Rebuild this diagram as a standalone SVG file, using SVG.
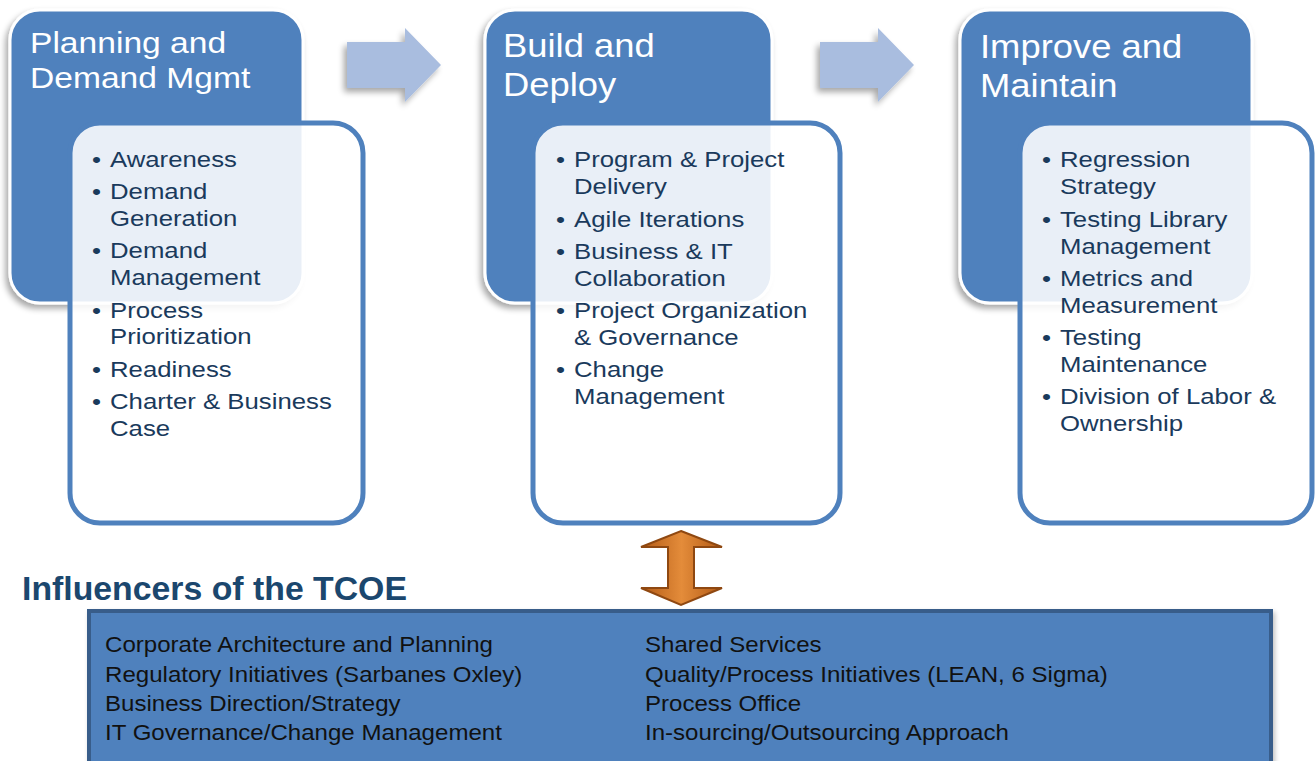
<svg xmlns="http://www.w3.org/2000/svg" width="1315" height="761" viewBox="0 0 1315 761">
  <defs>
    <filter id="shadow" x="-10%" y="-10%" width="125%" height="125%">
      <feGaussianBlur in="SourceAlpha" stdDeviation="3"/>
      <feOffset dx="-3" dy="4" result="b"/>
      <feComponentTransfer><feFuncA type="linear" slope="0.35"/></feComponentTransfer>
      <feMerge><feMergeNode/><feMergeNode in="SourceGraphic"/></feMerge>
    </filter>
    <filter id="softShadow" x="-10%" y="-10%" width="125%" height="125%">
      <feGaussianBlur in="SourceAlpha" stdDeviation="2.5"/>
      <feOffset dx="2" dy="3" result="b"/>
      <feComponentTransfer><feFuncA type="linear" slope="0.25"/></feComponentTransfer>
      <feMerge><feMergeNode/><feMergeNode in="SourceGraphic"/></feMerge>
    </filter>
    <linearGradient id="orange" x1="0" y1="0" x2="1" y2="0">
      <stop offset="0" stop-color="#b25a16"/>
      <stop offset="0.5" stop-color="#e48c3a"/>
      <stop offset="1" stop-color="#b25a16"/>
    </linearGradient>
  </defs>
  <style>
    .stage { fill: #4f81bd; stroke: #ffffff; stroke-width: 3; }
    .panel { fill: #ffffff; fill-opacity: 0.875; stroke: #4f81bd; stroke-width: 5; }
    .title { font-family: "Liberation Sans", Arial, sans-serif; fill: #ffffff; }
    .item { font-family: "Liberation Sans", Arial, sans-serif; font-size: 23px; fill: #1a3a5c; }
    .flow { fill: #a9bddf; }
    .heading { font-family: "Liberation Sans", Arial, sans-serif; font-weight: bold; font-size: 33.8px; fill: #1b476e; }
    .infl { font-family: "Liberation Sans", Arial, sans-serif; font-size: 21.5px; fill: #111111; }
  </style>

  <rect width="1315" height="761" fill="#ffffff"/>

  <!-- Stage 1 -->
  <g id="stage-planning">
    <rect class="stage" x="10" y="10" width="293" height="293" rx="30" filter="url(#shadow)"/>
    <g transform="translate(30,0) scale(1.12,1)">
      <text class="title" font-size="30" x="0" y="53">Planning and</text>
      <text class="title" font-size="30" x="0" y="88">Demand Mgmt</text>
    </g>
    <rect class="panel" x="70" y="123" width="293" height="400" rx="30"/>
    <g transform="translate(110,0) scale(1.12,1)">
      <text class="item" x="-16" y="167">•</text><text class="item" x="0" y="167">Awareness</text>
      <text class="item" x="-16" y="199">•</text><text class="item" x="0" y="199">Demand</text>
      <text class="item" x="0" y="226">Generation</text>
      <text class="item" x="-16" y="258">•</text><text class="item" x="0" y="258">Demand</text>
      <text class="item" x="0" y="285">Management</text>
      <text class="item" x="-16" y="318">•</text><text class="item" x="0" y="318">Process</text>
      <text class="item" x="0" y="344">Prioritization</text>
      <text class="item" x="-16" y="377">•</text><text class="item" x="0" y="377">Readiness</text>
      <text class="item" x="-16" y="409">•</text><text class="item" x="0" y="409">Charter &amp; Business</text>
      <text class="item" x="0" y="436">Case</text>
    </g>
  </g>

  <!-- Stage 2 -->
  <g id="stage-build">
    <rect class="stage" x="485" y="10" width="287" height="293" rx="30" filter="url(#shadow)"/>
    <g transform="translate(503,0) scale(1.12,1)">
      <text class="title" font-size="32.5" x="0" y="57">Build and</text>
      <text class="title" font-size="32.5" x="0" y="96">Deploy</text>
    </g>
    <rect class="panel" x="533" y="123" width="307" height="400" rx="30"/>
    <g transform="translate(574,0) scale(1.12,1)">
      <text class="item" x="-16" y="167">•</text><text class="item" x="0" y="167">Program &amp; Project</text>
      <text class="item" x="0" y="194">Delivery</text>
      <text class="item" x="-16" y="227">•</text><text class="item" x="0" y="227">Agile Iterations</text>
      <text class="item" x="-16" y="259">•</text><text class="item" x="0" y="259">Business &amp; IT</text>
      <text class="item" x="0" y="286">Collaboration</text>
      <text class="item" x="-16" y="318">•</text><text class="item" x="0" y="318">Project Organization</text>
      <text class="item" x="0" y="345">&amp; Governance</text>
      <text class="item" x="-16" y="377">•</text><text class="item" x="0" y="377">Change</text>
      <text class="item" x="0" y="404">Management</text>
    </g>
  </g>

  <!-- Stage 3 -->
  <g id="stage-improve">
    <rect class="stage" x="960" y="10" width="292" height="293" rx="30" filter="url(#shadow)"/>
    <g transform="translate(980,0) scale(1.12,1)">
      <text class="title" font-size="32.5" x="0" y="58">Improve and</text>
      <text class="title" font-size="32.5" x="0" y="97">Maintain</text>
    </g>
    <rect class="panel" x="1020" y="123" width="292" height="400" rx="30"/>
    <g transform="translate(1060,0) scale(1.12,1)">
      <text class="item" x="-16" y="167">•</text><text class="item" x="0" y="167">Regression</text>
      <text class="item" x="0" y="194">Strategy</text>
      <text class="item" x="-16" y="227">•</text><text class="item" x="0" y="227">Testing Library</text>
      <text class="item" x="0" y="254">Management</text>
      <text class="item" x="-16" y="286">•</text><text class="item" x="0" y="286">Metrics and</text>
      <text class="item" x="0" y="313">Measurement</text>
      <text class="item" x="-16" y="345">•</text><text class="item" x="0" y="345">Testing</text>
      <text class="item" x="0" y="372">Maintenance</text>
      <text class="item" x="-16" y="404">•</text><text class="item" x="0" y="404">Division of Labor &amp;</text>
      <text class="item" x="0" y="431">Ownership</text>
    </g>
  </g>

  <!-- Flow arrows between stages and the two-way link to the influencers -->
  <g id="connectors">
    <polygon class="flow" filter="url(#shadow)" points="347,42 405,42 405,28 441,65 405,102 405,88 347,88"/>
    <polygon class="flow" filter="url(#shadow)" points="820,42 878,42 878,28 914,65 878,102 878,88 820,88"/>
    <polygon fill="url(#orange)" stroke="#8f4811" stroke-width="2" stroke-linejoin="miter"
             points="681,531 722,547 694,547 694,588 722,588 681,605 641,588 668,588 668,547 641,547"/>
  </g>

  <!-- Influencers -->
  <g id="influencers">
    <text class="heading" x="22" y="600">Influencers of the TCOE</text>
    <rect x="89" y="611" width="1182" height="160" fill="#4f81bd" stroke="#385d8a" stroke-width="4" filter="url(#softShadow)"/>
    <g transform="translate(105,0) scale(1.12,1)">
      <text class="infl" x="0" y="652">Corporate Architecture and Planning</text>
      <text class="infl" x="0" y="682">Regulatory Initiatives (Sarbanes Oxley)</text>
      <text class="infl" x="0" y="711">Business Direction/Strategy</text>
      <text class="infl" x="0" y="740">IT Governance/Change Management</text>
    </g>
    <g transform="translate(645,0) scale(1.12,1)">
      <text class="infl" x="0" y="652">Shared Services</text>
      <text class="infl" x="0" y="682">Quality/Process Initiatives (LEAN, 6 Sigma)</text>
      <text class="infl" x="0" y="711">Process Office</text>
      <text class="infl" x="0" y="740">In-sourcing/Outsourcing Approach</text>
    </g>
  </g>
</svg>
